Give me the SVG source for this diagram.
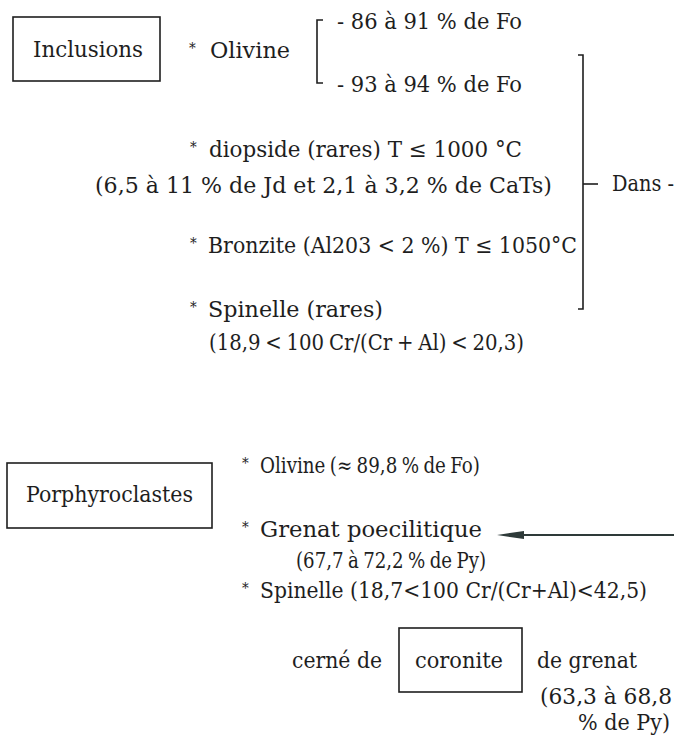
<svg xmlns="http://www.w3.org/2000/svg" width="674" height="736" viewBox="0 0 674 736">
<defs>
<style>
text{font-family:"DejaVu Serif Condensed","DejaVu Serif",serif;font-size:22px;fill:#1e1e1e;}
text.st{font-size:15px;}
text.ws{word-spacing:-1.5px;}
.box{fill:none;stroke:#1e1e1e;stroke-width:1.6;}
.ln{fill:none;stroke:#1e1e1e;stroke-width:1.6;}
.arr{fill:none;stroke:#2e3a39;stroke-width:2;}
</style>
</defs>
<rect width="674" height="736" fill="#ffffff"/>

<g id="inclusions">
<rect class="box" x="13" y="17" width="147" height="64"/>
<text x="33" y="57" textLength="110" lengthAdjust="spacingAndGlyphs">Inclusions</text>
</g>

<g id="olivine-incl">
<text class="st" x="189" y="53">*</text>
<text x="210" y="58" textLength="80" lengthAdjust="spacingAndGlyphs">Olivine</text>
<text x="337" y="29" textLength="185" lengthAdjust="spacingAndGlyphs">- 86 à 91 % de Fo</text>
<text x="337" y="92" textLength="185" lengthAdjust="spacingAndGlyphs">- 93 à 94 % de Fo</text>
</g>

<g id="diopside">
<text class="st" x="190" y="152">*</text>
<text x="209" y="157" textLength="313" lengthAdjust="spacingAndGlyphs">diopside (rares) T ≤ 1000 °C</text>
<text x="95" y="193" textLength="457" lengthAdjust="spacingAndGlyphs">(6,5 à 11 % de Jd et 2,1 à 3,2 % de CaTs)</text>
</g>

<g id="bronzite">
<text class="st" x="190" y="248">*</text>
<text x="208" y="253" textLength="369" lengthAdjust="spacingAndGlyphs">Bronzite (Al203 &lt; 2 %) T ≤ 1050°C</text>
</g>

<g id="spinelle-incl">
<text class="st" x="190" y="312">*</text>
<text x="208" y="317" textLength="175" lengthAdjust="spacingAndGlyphs">Spinelle (rares)</text>
<text class="ws" x="209" y="350" textLength="315" lengthAdjust="spacingAndGlyphs">(18,9 &lt; 100 Cr/(Cr + Al) &lt; 20,3)</text>
</g>

<g id="dans">
<text x="612" y="191" textLength="62" lengthAdjust="spacingAndGlyphs">Dans -</text>
</g>

<g id="porphyroclastes">
<rect class="box" x="7" y="463" width="205" height="65"/>
<text x="26" y="502" textLength="167" lengthAdjust="spacingAndGlyphs">Porphyroclastes</text>
</g>

<g id="olivine-porph">
<text class="st" x="242" y="468">*</text>
<text class="ws" x="260" y="473" textLength="220" lengthAdjust="spacingAndGlyphs">Olivine (≈ 89,8 % de Fo)</text>
</g>

<g id="grenat">
<text class="st" x="242" y="532">*</text>
<text x="260" y="537" textLength="222" lengthAdjust="spacingAndGlyphs">Grenat poecilitique</text>
<text class="ws" x="296" y="568" textLength="190" lengthAdjust="spacingAndGlyphs">(67,7 à 72,2 % de Py)</text>
</g>

<g id="spinelle-porph">
<text class="st" x="242" y="593">*</text>
<text x="260" y="598" textLength="387" lengthAdjust="spacingAndGlyphs">Spinelle (18,7&lt;100 Cr/(Cr+Al)&lt;42,5)</text>
<text x="292" y="668" textLength="90" lengthAdjust="spacingAndGlyphs">cerné de</text>
</g>

<g id="coronite">
<rect class="box" x="399" y="628" width="123" height="64"/>
<text x="415" y="668" textLength="88" lengthAdjust="spacingAndGlyphs">coronite</text>
</g>

<g id="grenat-coronite">
<text x="537" y="668" textLength="100" lengthAdjust="spacingAndGlyphs">de grenat</text>
<text x="540" y="704" textLength="132" lengthAdjust="spacingAndGlyphs">(63,3 à 68,8</text>
<text x="578" y="730" textLength="92" lengthAdjust="spacingAndGlyphs">% de Py)</text>
</g>

<g id="connectors">
<path class="ln" d="M323,20 H317 V83 H323"/>
<path class="ln" d="M578,55 H583 V309 H578"/>
<path class="ln" d="M583,184 H598"/>
<path class="arr" d="M674,535 H518"/>
<polygon points="497,535 524,531 524,539" fill="#2e3a39"/>
</g>
</svg>
